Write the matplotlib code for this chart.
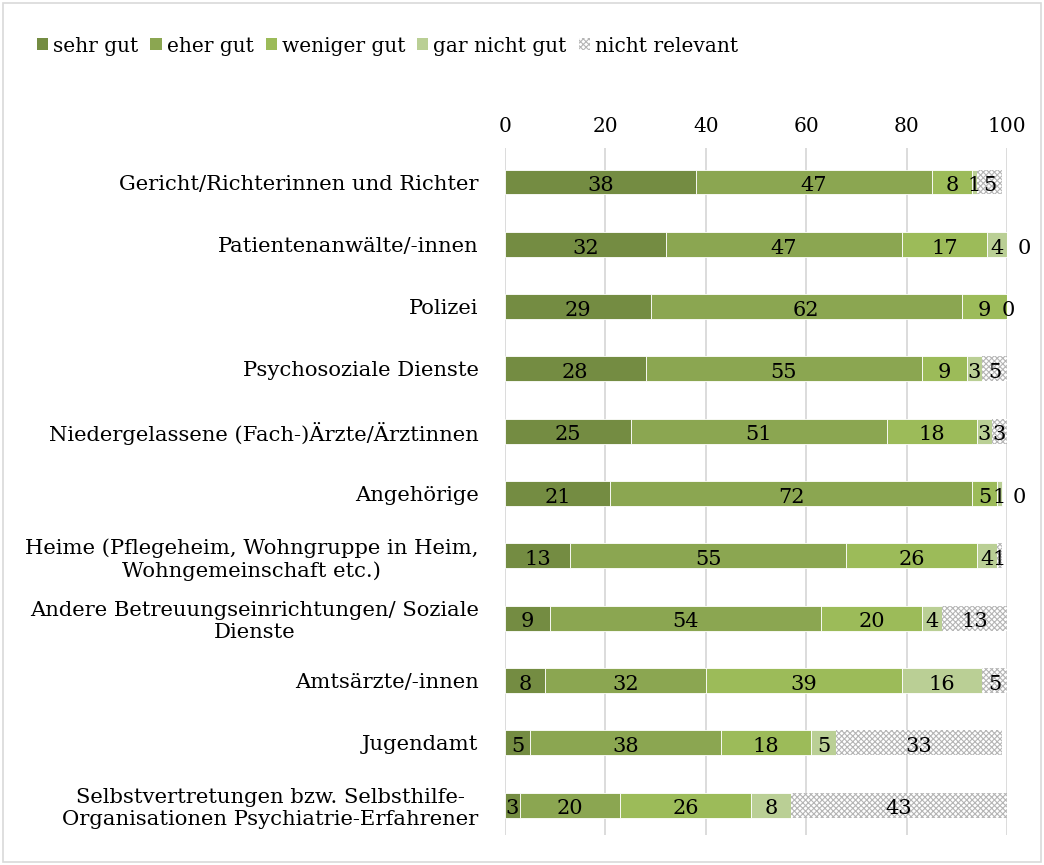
import matplotlib
matplotlib.use("Agg")
import matplotlib.pyplot as plt
from matplotlib.patches import Rectangle, Patch
import numpy as np

plt.rcParams['font.family'] = ['DejaVu Serif']
plt.rcParams['hatch.linewidth'] = 0.8

categories = [
    "Gericht/Richterinnen und Richter",
    "Patientenanwälte/-innen",
    "Polizei",
    "Psychosoziale Dienste",
    "Niedergelassene (Fach-)Ärzte/Ärztinnen",
    "Angehörige",
    "Heime (Pflegeheim, Wohngruppe in Heim,\nWohngemeinschaft etc.)",
    "Andere Betreuungseinrichtungen/ Soziale\nDienste",
    "Amtsärzte/-innen",
    "Jugendamt",
    "Selbstvertretungen bzw. Selbsthilfe-\nOrganisationen Psychiatrie-Erfahrener",
]
series_names = ["sehr gut", "eher gut", "weniger gut", "gar nicht gut", "nicht relevant"]
sehr_gut = [38, 32, 29, 28, 25, 21, 13, 9, 8, 5, 3]
eher_gut = [47, 47, 62, 55, 51, 72, 55, 54, 32, 38, 20]
weniger_gut = [8, 17, 9, 9, 18, 5, 26, 20, 39, 18, 26]
gar_nicht_gut = [1, 4, 0, 3, 3, 1, 4, 4, 16, 5, 8]
nicht_relevant = [5, 0, 0, 5, 3, 0, 1, 13, 5, 33, 43]
x_ticks = [0, 20, 40, 60, 80, 100]

colors = ["#748C42", "#8BA651", "#9CBB59", "#BACF95", "white"]
series = [sehr_gut, eher_gut, weniger_gut, gar_nicht_gut, nicht_relevant]

fig = plt.figure(figsize=(10.44, 8.65), dpi=100)
ax = fig.add_axes([505 / 1044, 1 - 835 / 865, 502 / 1044, 687 / 865])

y = np.arange(len(categories))
left = np.zeros(len(categories))
fs = 14.5
for k, (vals, col) in enumerate(zip(series, colors)):
    vals = np.array(vals, dtype=float)
    if k == 4:
        ax.barh(y, vals, left=left, height=0.4, color="white",
                edgecolor="#b5b5b5", linewidth=0, hatch="xxxxxx", zorder=3)
    else:
        ax.barh(y, vals, left=left, height=0.4, color=col,
                edgecolor="white", linewidth=0.6, zorder=3)
    left = left + vals

# value labels: one label per zero-width run, the others centred in their segment
for i in range(len(categories)):
    start = 0.0
    zero_done = False
    for k, vals in enumerate(series):
        v = vals[i]
        if v == 0:
            if not zero_done:
                xpos = start + (3.4 if k == 4 else 0.3)
                ax.text(xpos, i + 0.06, "0", ha="center", va="center",
                        fontsize=fs + 0.5, zorder=5)
                zero_done = True
        else:
            ax.text(start + v / 2, i + 0.06, str(v), ha="center", va="center",
                    fontsize=fs + 0.5, zorder=5)
        start += v

ax.set_xlim(0, 100)
ax.set_ylim(10.48, -0.546)
ax.set_xticks(x_ticks)
ax.xaxis.tick_top()
ax.tick_params(axis="x", length=0, pad=9, labelsize=fs)
ax.set_yticks(y)
ax.set_yticklabels(categories, fontsize=15.2, multialignment="center")
ax.tick_params(axis="y", length=0, pad=19)
ax.grid(axis="x", color="#d9d9d9", linewidth=1.3, zorder=0)
ax.set_axisbelow(True)
for s in ax.spines.values():
    s.set_visible(False)

handles = [Patch(facecolor=c, edgecolor="none") for c in colors[:4]]
handles.append(Patch(facecolor="white", edgecolor="#b5b5b5", linewidth=0, hatch="xxxxxx"))
fig.legend(handles, series_names, loc="center left", bbox_to_anchor=(37 / 1044, 1 - 46 / 865),
           ncol=5, frameon=False, fontsize=fs, handlelength=0.55, handleheight=0.55,
           handletextpad=0.25, columnspacing=0.6, borderaxespad=0, borderpad=0)

fig.patches.append(Rectangle((0.003, 0.003), 0.994, 0.994, transform=fig.transFigure,
                             fill=False, edgecolor="#d9d9d9", linewidth=1.2))

fig.savefig("out.png", dpi=100)
